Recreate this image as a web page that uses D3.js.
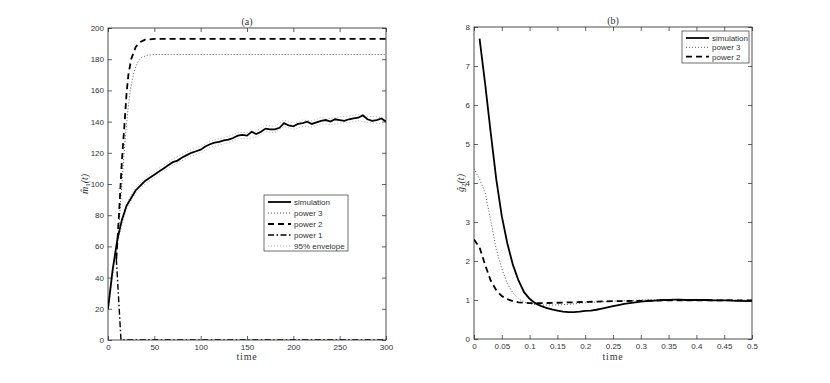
<!DOCTYPE html>
<html><head><meta charset="utf-8">
<script src="https://cdn.jsdelivr.net/npm/d3@7"></script>
<style>
body{margin:0;background:#fff;}
svg{display:block;}
.tick text{font-family:"Liberation Sans",Arial,sans-serif;font-size:8px;fill:#333;}
</style></head><body>
<svg id="c" width="830" height="383"></svg>
<script>
// ---------- Panel (a) data ----------
const aTime = [0,5,10,15,20,25,30,35,40,45,50,55,60,65,70,75,80,85,90,95,100,105,110,115,120,125,130,135,140,145,150,155,160,165,170,175,180,185,190,195,200,205,210,215,220,225,230,235,240,245,250,255,260,265,270,275,280,285,290,295,300];
const aSim  = [20,45,64,77,86,91,96,99,102,104,106,108,110,112,114,115,117,118.5,120,121,122,124,125.5,126.5,127,128,128.5,129.5,131,131.5,131,133.5,132,133.5,135.5,135,135,136,139,137.5,137,138.5,139,140,138.5,139.5,140.5,141,140,141.5,141,140.5,141.5,142,142.5,144,141.5,140.5,141,142,140];
const envTime  = [0,10,20,30,40,50,60,70,80,90,100,110,120,130,140,150,160,170,180,190,200,210,220,230,240,250,260,270,280,290,300];
const envUpper = [22,66,88,98,104,108,112,116,119,122,124,127.5,129,130.5,133,133,134,137.5,137,141,139,141,140.5,142.5,142,143,143.5,144.5,143.5,143,142];
const envLower = [18,62,84,94,100,104,108,112,115,118,120,123.5,125,126.5,129,129,130,133.5,133,137,135,137,136.5,138.5,138,139,139.5,140.5,139.5,139,138];
const p3Time = [9,12,15,18,21,24,28,32,36,42,50,300];
const p3Val  = [52,75,100,125,145,160,172,178,181,182.5,183,183];
const p2Time = [9,12,15,18,20,22,25,30,35,40,50,300];
const p2Val  = [52,82,115,140,158,170,180,188,191,192.5,193,193];
const p1Time = [9,14,300];
const p1Val  = [52,0,0];
const aXTicks = [0,50,100,150,200,250,300];
const aYTicks = [0,20,40,60,80,100,120,140,160,180,200];

// ---------- Panel (b) data ----------
const bSimTime = [0.01,0.02,0.03,0.04,0.05,0.06,0.07,0.08,0.09,0.10,0.11,0.12,0.13,0.14,0.15,0.16,0.17,0.18,0.19,0.20,0.21,0.22,0.23,0.24,0.25,0.26,0.27,0.28,0.29,0.30,0.31,0.32,0.33,0.34,0.35,0.36,0.37,0.38,0.39,0.40,0.41,0.42,0.43,0.44,0.45,0.46,0.47,0.48,0.49,0.50];
const bSim = [7.7,6.55,5.3,4.1,3.15,2.45,1.9,1.5,1.2,1.03,0.92,0.85,0.8,0.76,0.73,0.7,0.69,0.69,0.7,0.72,0.73,0.75,0.78,0.81,0.84,0.87,0.9,0.92,0.94,0.96,0.97,0.98,0.99,1.0,1.0,1.01,1.01,1.0,1.0,1.0,1.0,1.0,0.99,0.99,0.99,0.99,0.98,0.98,0.97,0.98];
const bP3Time = [0,0.01,0.02,0.03,0.04,0.05,0.06,0.07,0.08,0.09,0.10,0.12,0.14,0.16,0.18,0.20,0.25,0.30,0.35,0.40,0.45,0.50];
const bP3 = [4.37,4.1,3.75,3.05,2.3,1.8,1.42,1.18,1.03,0.95,0.9,0.87,0.87,0.88,0.9,0.93,0.97,1.0,1.01,1.01,1.0,1.0];
const bP2Time = [0,0.01,0.02,0.03,0.04,0.05,0.06,0.07,0.08,0.10,0.12,0.15,0.20,0.25,0.30,0.35,0.40,0.45,0.50];
const bP2 = [2.55,2.35,1.9,1.5,1.25,1.1,1.02,0.97,0.94,0.92,0.92,0.93,0.95,0.97,0.98,0.99,0.99,0.99,0.99];
const bXTicks = [0,0.05,0.1,0.15,0.2,0.25,0.3,0.35,0.4,0.45,0.5];
const bYTicks = [0,1,2,3,4,5,6,7,8];

const svg = d3.select("#c");
const serif = "'Liberation Serif','DejaVu Serif',serif";
const sans = "'Liberation Sans',Arial,sans-serif";

function frame(x, y, xTicks, yTicks, fmtX) {
  const g = svg.append("g");
  const [x0,x1] = x.range(), [y0,y1] = y.range();
  g.append("rect").attr("x",x0).attr("y",y1).attr("width",x1-x0).attr("height",y0-y1)
    .attr("fill","none").attr("stroke","#222").attr("stroke-width",0.8);
  const ax = d3.axisBottom(x).tickValues(xTicks).tickSizeInner(-4).tickSizeOuter(0).tickPadding(4).tickFormat(fmtX);
  g.append("g").attr("transform",`translate(0,${y0})`).call(ax).call(s=>s.select(".domain").remove());
  g.append("g").attr("transform",`translate(0,${y1})`).call(d3.axisTop(x).tickValues(xTicks).tickSizeInner(-4).tickSizeOuter(0).tickFormat(""))
    .call(s=>s.select(".domain").remove());
  g.append("g").attr("transform",`translate(${x0},0)`).call(d3.axisLeft(y).tickValues(yTicks).tickSizeInner(-4).tickSizeOuter(0).tickPadding(4))
    .call(s=>s.select(".domain").remove());
  g.append("g").attr("transform",`translate(${x1},0)`).call(d3.axisRight(y).tickValues(yTicks).tickSizeInner(-4).tickSizeOuter(0).tickFormat(""))
    .call(s=>s.select(".domain").remove());
  g.selectAll(".tick line").attr("stroke","#222").attr("stroke-width",0.7);
  return g;
}

function line(x,y,ts,vs){ return d3.line().x((d,i)=>x(ts[i])).y((d,i)=>y(vs[i]))(vs); }

const styles = {
  sim:{stroke:"#000",w:1.8,dash:null},
  p3:{stroke:"#555",w:1.0,dash:"1,2"},
  p2:{stroke:"#000",w:1.8,dash:"6,4"},
  p1:{stroke:"#000",w:1.4,dash:"6,2.5,1.5,2.5"},
  env:{stroke:"#aaa",w:0.9,dash:"1,2"}
};
function draw(g,d,st,clip){
  g.append("path").attr("d",d).attr("fill","none").attr("stroke",st.stroke)
   .attr("stroke-width",st.w).attr("stroke-dasharray",st.dash).attr("clip-path",clip);
}
function legend(x0,y0,w,h,rows,dy,lx0,lx1,tx){
  svg.append("rect").attr("x",x0).attr("y",y0).attr("width",w).attr("height",h)
    .attr("fill","#fff").attr("stroke","#333").attr("stroke-width",0.7);
  rows.forEach((r,i)=>{
    const yy = y0+7+i*dy;
    svg.append("line").attr("x1",lx0).attr("x2",lx1).attr("y1",yy).attr("y2",yy)
      .attr("stroke",styles[r.k].stroke).attr("stroke-width",styles[r.k].w).attr("stroke-dasharray",styles[r.k].dash);
    svg.append("text").attr("x",tx).attr("y",yy+3).attr("font-family",sans).attr("font-size",8).attr("fill","#333").text(r.t);
  });
}

// ---------- Panel (a) ----------
const xa = d3.scaleLinear().domain([0,300]).range([108,386]);
const ya = d3.scaleLinear().domain([0,200]).range([340,28]);
svg.append("clipPath").attr("id","ca").append("rect").attr("x",108).attr("y",28).attr("width",278).attr("height",312);
const ga = frame(xa,ya,aXTicks,aYTicks,d3.format("d"));
draw(svg,line(xa,ya,envTime,envUpper),styles.env,"url(#ca)");
draw(svg,line(xa,ya,envTime,envLower),styles.env,"url(#ca)");
draw(svg,line(xa,ya,p1Time,p1Val),styles.p1,"url(#ca)");
draw(svg,line(xa,ya,p3Time,p3Val),styles.p3,"url(#ca)");
draw(svg,line(xa,ya,p2Time,p2Val),styles.p2,"url(#ca)");
draw(svg,line(xa,ya,aTime,aSim),styles.sim,"url(#ca)");
svg.append("text").attr("x",247).attr("y",25).attr("text-anchor","middle").attr("font-family",serif).attr("font-size",10).attr("fill","#333").text("(a)");
svg.append("text").attr("x",247).attr("y",360).attr("text-anchor","middle").attr("font-family",serif).attr("font-size",10).attr("fill","#333").attr("letter-spacing",0.8).text("time");
const la = svg.append("text").attr("transform","translate(88,184) rotate(-90)").attr("text-anchor","middle").attr("font-family",serif).attr("font-size",10).attr("fill","#333").attr("font-style","italic");
la.append("tspan").text("m̂");
la.append("tspan").attr("font-size",7).attr("dy",2).attr("font-style","normal").text("1");
la.append("tspan").attr("dy",-2).text("(t)");
legend(264,195,84,56,[{k:"sim",t:"simulation"},{k:"p3",t:"power 3"},{k:"p2",t:"power 2"},{k:"p1",t:"power 1"},{k:"env",t:"95% envelope"}],11,268,291,294);

// ---------- Panel (b) ----------
const xb = d3.scaleLinear().domain([0,0.5]).range([474,752]);
const yb = d3.scaleLinear().domain([0,8]).range([339,27]);
svg.append("clipPath").attr("id","cb").append("rect").attr("x",474).attr("y",27).attr("width",278).attr("height",312);
const gb = frame(xb,yb,bXTicks,bYTicks,d=>d===0?"0":String(+d.toFixed(2)));
draw(svg,line(xb,yb,bP3Time,bP3),styles.p3,"url(#cb)");
draw(svg,line(xb,yb,bP2Time,bP2),styles.p2,"url(#cb)");
draw(svg,line(xb,yb,bSimTime,bSim),styles.sim,"url(#cb)");
svg.append("text").attr("x",613).attr("y",24).attr("text-anchor","middle").attr("font-family",serif).attr("font-size",10).attr("fill","#333").text("(b)");
svg.append("text").attr("x",613).attr("y",360).attr("text-anchor","middle").attr("font-family",serif).attr("font-size",10).attr("fill","#333").attr("letter-spacing",0.8).text("time");
const lb = svg.append("text").attr("transform","translate(464,183) rotate(-90)").attr("text-anchor","middle").attr("font-family",serif).attr("font-size",10).attr("fill","#333").attr("font-style","italic");
lb.append("tspan").text("ĝ");
lb.append("tspan").attr("font-size",7).attr("dy",2).attr("font-style","normal").text("2");
lb.append("tspan").attr("dy",-2).text("(t)");
legend(682,31,67,32,[{k:"sim",t:"simulation"},{k:"p3",t:"power 3"},{k:"p2",t:"power 2"}],9.3,686,709,712);
</script>
</body></html>
